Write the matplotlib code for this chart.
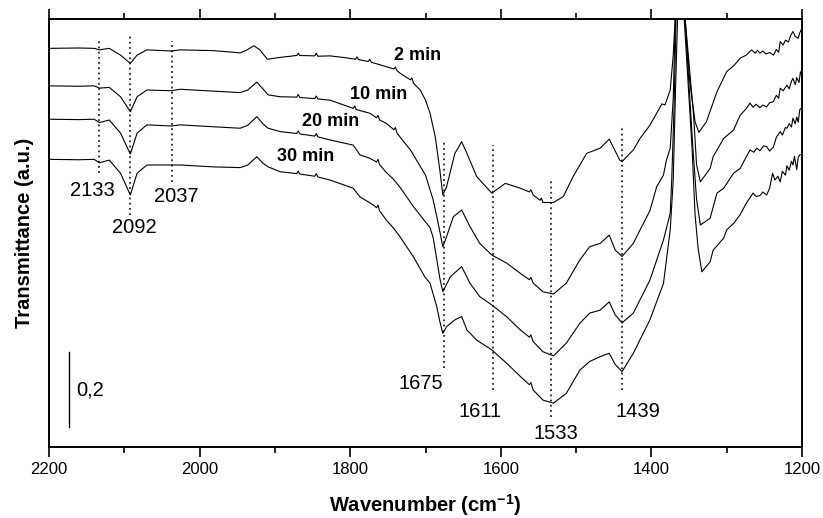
# coding: utf-8

"""
FTIR spectra (transmittance, offset) after 2, 10, 20 and 30 min.
"""

import numpy as np
import matplotlib
matplotlib.use('Agg')
import matplotlib.pyplot as plt
from matplotlib.ticker import MultipleLocator


spec_2min = [
    (2200, 1.063), (2160, 1.064), (2140, 1.063), (2133, 1.059), (2120, 1.063),
    (2105, 1.045), (2092, 1.023), (2083, 1.045), (2070, 1.059), (2037, 1.056),
    (2026, 1.059), (1982, 1.057), (1946, 1.051), (1937, 1.059), (1928, 1.070),
    (1920, 1.059), (1910, 1.034), (1893, 1.039), (1871, 1.044), (1869, 1.050),
    (1867, 1.044), (1847, 1.043), (1845, 1.050), (1843, 1.042), (1827, 1.043),
    (1810, 1.039), (1793, 1.034), (1791, 1.040), (1789, 1.033), (1776, 1.028),
    (1774, 1.034), (1772, 1.026), (1760, 1.019), (1752, 1.014), (1742, 1.008),
    (1740, 1.013), (1738, 1.004), (1734, 0.997), (1720, 0.979), (1718, 0.984),
    (1716, 0.970), (1707, 0.952), (1700, 0.925), (1694, 0.890), (1687, 0.827),
    (1681, 0.739), (1677, 0.672), (1672, 0.694), (1661, 0.783), (1652, 0.814),
    (1645, 0.783), (1632, 0.721), (1612, 0.677), (1594, 0.703), (1574, 0.690),
    (1562, 0.680), (1560, 0.686), (1557, 0.672), (1548, 0.658), (1546, 0.664),
    (1544, 0.652), (1530, 0.652), (1517, 0.668), (1504, 0.721), (1486, 0.783),
    (1468, 0.797), (1456, 0.821), (1442, 0.765), (1439, 0.761), (1424, 0.792),
    (1415, 0.823), (1402, 0.858), (1393, 0.890), (1386, 0.915), (1382, 0.912),
    (1378, 0.935), (1375, 0.952), (1371, 1.045), (1368, 1.160), (1362, 1.400),
    (1356, 1.160), (1349, 0.974), (1342, 0.867), (1337, 0.839), (1327, 0.867),
    (1313, 0.947), (1300, 1.001), (1290, 1.018), (1282, 1.037), (1274, 1.045),
    (1267, 1.059), (1262, 1.050), (1259, 1.058), (1256, 1.050), (1252, 1.056),
    (1248, 1.048), (1243, 1.052), (1238, 1.045), (1234, 1.060), (1231, 1.052),
    (1229, 1.081), (1225, 1.072), (1222, 1.085), (1218, 1.080), (1215, 1.098),
    (1212, 1.108), (1209, 1.095), (1205, 1.090), (1203, 1.104), (1200, 1.117),
]

spec_10min = [
    (2200, 0.963), (2160, 0.962), (2140, 0.963), (2133, 0.957), (2120, 0.959),
    (2105, 0.934), (2092, 0.894), (2083, 0.934), (2070, 0.952), (2037, 0.950),
    (2026, 0.954), (1982, 0.949), (1946, 0.945), (1936, 0.952), (1924, 0.973),
    (1916, 0.955), (1909, 0.939), (1893, 0.934), (1871, 0.933), (1869, 0.940),
    (1867, 0.932), (1847, 0.929), (1845, 0.936), (1843, 0.928), (1827, 0.925),
    (1796, 0.903), (1794, 0.909), (1792, 0.900), (1774, 0.890), (1765, 0.878),
    (1763, 0.884), (1761, 0.872), (1752, 0.863), (1742, 0.846), (1740, 0.852),
    (1738, 0.838), (1734, 0.827), (1720, 0.792), (1700, 0.725), (1690, 0.660),
    (1685, 0.614), (1681, 0.575), (1677, 0.534), (1672, 0.561), (1663, 0.614),
    (1652, 0.632), (1641, 0.588), (1628, 0.543), (1612, 0.512), (1592, 0.490),
    (1574, 0.463), (1562, 0.446), (1560, 0.452), (1557, 0.437), (1544, 0.414),
    (1530, 0.408), (1513, 0.437), (1495, 0.499), (1482, 0.534), (1468, 0.543),
    (1456, 0.565), (1448, 0.525), (1439, 0.508), (1424, 0.543), (1415, 0.579),
    (1402, 0.630), (1393, 0.694), (1384, 0.725), (1380, 0.765), (1375, 0.797),
    (1371, 0.930), (1368, 1.160), (1362, 1.400), (1356, 1.160), (1344, 0.885),
    (1340, 0.752), (1335, 0.707), (1322, 0.743), (1318, 0.774), (1304, 0.823),
    (1291, 0.845), (1282, 0.885), (1275, 0.900), (1269, 0.917), (1265, 0.906),
    (1261, 0.914), (1256, 0.905), (1252, 0.912), (1247, 0.907), (1243, 0.918),
    (1238, 0.921), (1234, 0.938), (1231, 0.930), (1229, 0.957), (1225, 0.950),
    (1220, 0.965), (1217, 0.955), (1214, 0.975), (1212, 0.983), (1209, 0.966),
    (1207, 0.985), (1204, 0.972), (1202, 1.001), (1200, 0.990),
]

spec_20min = [
    (2200, 0.874), (2160, 0.873), (2140, 0.874), (2133, 0.865), (2120, 0.872),
    (2105, 0.837), (2092, 0.781), (2083, 0.837), (2070, 0.859), (2037, 0.856),
    (2026, 0.859), (1982, 0.854), (1946, 0.850), (1936, 0.858), (1924, 0.881),
    (1916, 0.862), (1909, 0.850), (1893, 0.841), (1871, 0.836), (1869, 0.843),
    (1867, 0.835), (1847, 0.829), (1845, 0.836), (1843, 0.827), (1827, 0.819),
    (1796, 0.805), (1787, 0.779), (1774, 0.770), (1765, 0.760), (1763, 0.767),
    (1761, 0.753), (1752, 0.732), (1743, 0.715), (1734, 0.693), (1716, 0.641),
    (1700, 0.600), (1694, 0.585), (1690, 0.560), (1685, 0.500), (1681, 0.450),
    (1677, 0.414), (1667, 0.454), (1652, 0.481), (1641, 0.437), (1628, 0.401),
    (1612, 0.379), (1592, 0.347), (1574, 0.312), (1562, 0.293), (1560, 0.299),
    (1557, 0.281), (1544, 0.254), (1530, 0.243), (1513, 0.277), (1495, 0.330),
    (1482, 0.357), (1468, 0.365), (1456, 0.387), (1448, 0.352), (1439, 0.331),
    (1424, 0.357), (1402, 0.445), (1384, 0.552), (1375, 0.623), (1373, 0.712),
    (1370, 0.900), (1367, 1.160), (1362, 1.400), (1356, 1.160), (1345, 0.800),
    (1340, 0.660), (1335, 0.592), (1322, 0.610), (1313, 0.677), (1304, 0.690),
    (1291, 0.730), (1282, 0.743), (1275, 0.770), (1269, 0.792), (1264, 0.786),
    (1260, 0.797), (1256, 0.790), (1251, 0.803), (1247, 0.801), (1243, 0.789),
    (1238, 0.800), (1234, 0.826), (1229, 0.841), (1226, 0.832), (1222, 0.852),
    (1220, 0.850), (1217, 0.862), (1214, 0.853), (1212, 0.877), (1209, 0.862),
    (1207, 0.880), (1205, 0.866), (1203, 0.899), (1200, 0.905),
]

spec_30min = [
    (2200, 0.767), (2160, 0.766), (2140, 0.767), (2133, 0.758), (2120, 0.765),
    (2105, 0.730), (2092, 0.672), (2083, 0.730), (2070, 0.752), (2037, 0.752),
    (2026, 0.752), (1982, 0.747), (1946, 0.745), (1936, 0.752), (1924, 0.774),
    (1916, 0.757), (1909, 0.747), (1893, 0.734), (1871, 0.729), (1869, 0.736),
    (1867, 0.728), (1847, 0.722), (1845, 0.729), (1843, 0.720), (1827, 0.712),
    (1796, 0.690), (1787, 0.667), (1769, 0.645), (1765, 0.638), (1763, 0.645),
    (1761, 0.630), (1752, 0.605), (1743, 0.585), (1734, 0.561), (1716, 0.507),
    (1701, 0.454), (1694, 0.437), (1685, 0.374), (1681, 0.335), (1677, 0.303),
    (1672, 0.321), (1661, 0.339), (1652, 0.348), (1645, 0.312), (1632, 0.285),
    (1612, 0.259), (1592, 0.223), (1574, 0.188), (1562, 0.166), (1560, 0.172),
    (1557, 0.152), (1544, 0.125), (1530, 0.117), (1513, 0.143), (1495, 0.205),
    (1482, 0.228), (1468, 0.241), (1456, 0.250), (1448, 0.220), (1439, 0.201),
    (1424, 0.250), (1402, 0.339), (1384, 0.436), (1375, 0.579), (1371, 0.712),
    (1368, 0.950), (1365, 1.160), (1362, 1.400), (1357, 1.160), (1346, 0.797),
    (1342, 0.619), (1338, 0.530), (1333, 0.467), (1322, 0.494), (1318, 0.525),
    (1304, 0.557), (1300, 0.579), (1290, 0.598), (1282, 0.620), (1274, 0.650),
    (1265, 0.677), (1261, 0.668), (1256, 0.670), (1252, 0.680), (1247, 0.672),
    (1243, 0.690), (1239, 0.730), (1236, 0.712), (1232, 0.722), (1229, 0.707),
    (1226, 0.735), (1222, 0.725), (1220, 0.750), (1217, 0.738), (1214, 0.762),
    (1212, 0.752), (1210, 0.775), (1207, 0.740), (1205, 0.772), (1203, 0.779),
    (1200, 0.780),
]

spectra = [spec_2min, spec_10min, spec_20min, spec_30min]

# series names and where they are written
series_labels = ['2 min', '10 min', '20 min', '30 min']
series_label_pos = [(1711, 1.045), (1762, 0.939), (1826, 0.867), (1859, 0.775)]

# band assignments: wavenumber, dotted line span, label position
band_wn = [2133, 2092, 2037, 1675, 1611, 1533, 1439]
band_span = [(0.731, 1.091), (0.619, 1.099), (0.707, 1.083), (0.210, 0.814),
             (0.152, 0.805), (0.081, 0.717), (0.152, 0.859)]
band_label_pos = [(2142, 0.685), (2087, 0.584), (2031, 0.667), (1706, 0.170),
                  (1628, 0.094), (1527, 0.036), (1418, 0.094)]

# scale bar (0,2 a.u.)
scale_wn = 2173
scale_span = (0.053, 0.253)
scale_text = '0,2'


def plot_spectra():
    """
    Draws the offset spectra with band markers.
    """
    plt.rcParams['font.family'] = ['Liberation Sans', 'DejaVu Sans']
    plt.rcParams['mathtext.fontset'] = 'custom'
    plt.rcParams['mathtext.rm'] = 'Liberation Sans'

    fig = plt.figure(figsize=(8.23, 5.18), dpi=100)
    ax = fig.add_axes([49 / 823, 71 / 518, 753 / 823, 428 / 518])

    for spec in spectra:
        data = np.array(spec)
        ax.plot(data[:, 0], data[:, 1], color='black', lw=0.8)

    for name, (x, y) in zip(series_labels, series_label_pos):
        ax.text(x, y, name, fontsize=13, fontweight='bold',
                ha='center', va='center')

    for wn, (y0, y1), (tx, ty) in zip(band_wn, band_span, band_label_pos):
        ax.plot([wn, wn], [y0, y1], color='black', lw=1.1,
                linestyle=(0, (1.2, 2.2)))
        ax.text(tx, ty, str(wn), fontsize=14.5, ha='center', va='center')

    ax.plot([scale_wn, scale_wn], scale_span, color='black', lw=1.0)
    ax.text(2164, sum(scale_span) / 2, scale_text, fontsize=14.5,
            ha='left', va='center')

    ax.set_xlim(2200, 1200)
    ax.set_ylim(0, 1.1413)
    ax.xaxis.set_major_locator(MultipleLocator(200))
    ax.xaxis.set_minor_locator(MultipleLocator(100))
    ax.set_yticks([])
    ax.tick_params(axis='x', which='both', top=True, direction='out',
                   width=1.2, labelsize=12, pad=4)
    ax.tick_params(axis='x', which='major', length=7)
    ax.tick_params(axis='x', which='minor', length=4)
    for spine in ax.spines.values():
        spine.set_linewidth(1.4)

    ax.set_xlabel('Wavenumber (cm$^{\\mathregular{-1}}$)', fontsize=14.5,
                  fontweight='bold', labelpad=10.5)
    ax.set_ylabel('Transmittance (a.u.)', fontsize=14.5, fontweight='bold',
                  labelpad=11)

    fig.savefig('out.png', dpi=100)


if __name__ == '__main__':
    plot_spectra()
